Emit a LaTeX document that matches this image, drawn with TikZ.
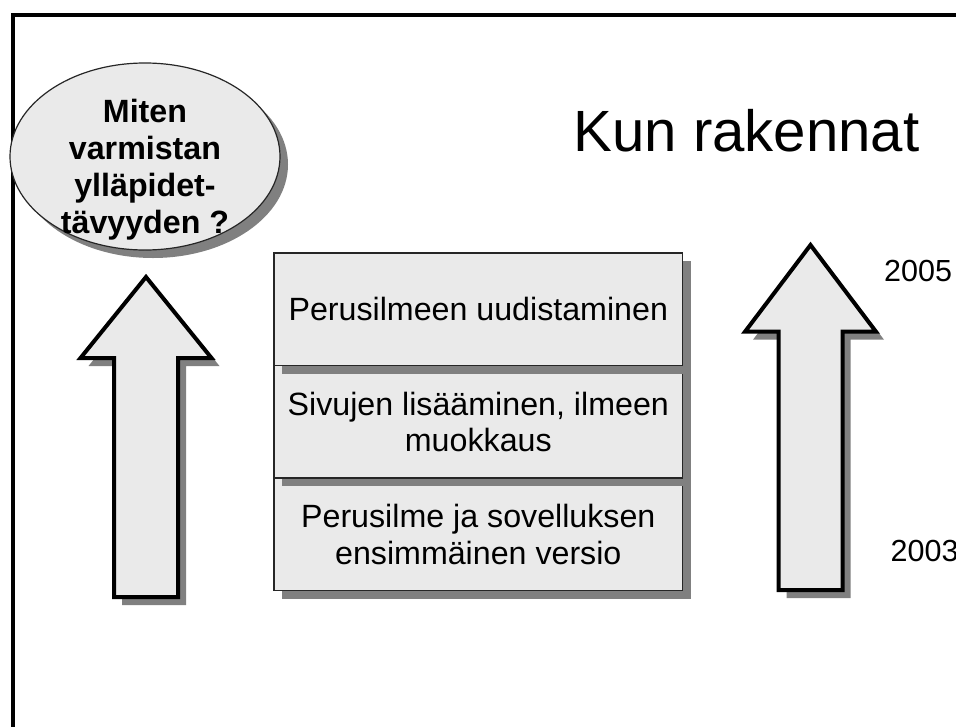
\documentclass[tikz,border=0pt]{standalone}
\usepackage{fontspec}
\setmainfont{Liberation Sans}
\usetikzlibrary{shapes.geometric,shadows}

\definecolor{panel}{HTML}{EAEAEA}
\definecolor{shade}{HTML}{808080}

% Outline of a fat upward arrow: tip x, tip y, y of the head base, y of the shaft bottom
\newcommand\fatarrowpath[4]{(#1,#2) -- ({#1+65.5},#3) -- ({#1+32},#3) -- ({#1+32},#4)
  -- ({#1-32},#4) -- ({#1-32},#3) -- ({#1-65.5},#3) -- cycle}

\tikzset{
  dropshade/.style={drop shadow={shadow xshift=8pt, shadow yshift=-8pt, opacity=1, fill=shade}},
  layer/.style={draw=black!85, line width=1.2pt, fill=panel, dropshade,
    minimum width=408.7pt, minimum height=112.5pt, inner sep=0pt, align=center,
    font=\fontsize{32.2}{36.5}\selectfont},
  bubble/.style={ellipse, draw=black!85, line width=1.2pt, fill=panel, dropshade,
    minimum width=270pt, minimum height=187pt, inner sep=0pt},
  bubbletext/.style={align=center, inner sep=0pt, font=\fontsize{32.2}{37}\selectfont\bfseries},
  arrowbody/.style={draw=black, fill=panel, line width=4pt, line join=miter},
  arrowshadow/.style={fill=shade, shift={(8,8)}},
  year/.style={anchor=west, inner sep=0pt, font=\fontsize{30.5}{35}\selectfont},
  headline/.style={anchor=base, inner sep=0pt, font=\fontsize{58.2}{68}\selectfont}
}

\begin{document}
\begin{tikzpicture}[x=1pt, y=-1pt]
  \path[use as bounding box] (0,0) rectangle (956,726);
  \clip (0,0) rectangle (956,726);

  % slide frame (runs past the right and bottom edges)
  \draw[line width=4pt] (13,15) rectangle (1000,800);

  % title
  \node[headline] (title) at (746.5,151.7) {Kun rakennat};

  % question bubble
  \node[bubble] (bubble) at (145,156.5) {};
  \node[bubbletext] (question) at (145,170) {Miten\\varmistan\\ylläpidet-\\tävyyden ?};

  % left arrow
  \fill[arrowshadow] \fatarrowpath{146}{277}{358}{597};
  \draw[arrowbody] \fatarrowpath{146}{277}{358}{597};

  % right arrow (time axis)
  \fill[arrowshadow] \fatarrowpath{810.5}{245}{331.7}{590};
  \draw[arrowbody] \fatarrowpath{810.5}{245}{331.7}{590};

  % stacked layers, bottom one first so each upper shadow falls on the layer below
  \node[layer] (base) at (478.3,534.25) {Perusilme ja sovelluksen\\ensimmäinen versio};
  \node[layer] (pages) at (478.3,421.75) {Sivujen lisääminen, ilmeen\\muokkaus};
  \node[layer] (renew) at (478.3,309.25) {Perusilmeen uudistaminen};

  % years
  \node[year] (y2005) at (884,271) {2005};
  \node[year] (y2003) at (890.5,551) {2003};
\end{tikzpicture}
\end{document}
